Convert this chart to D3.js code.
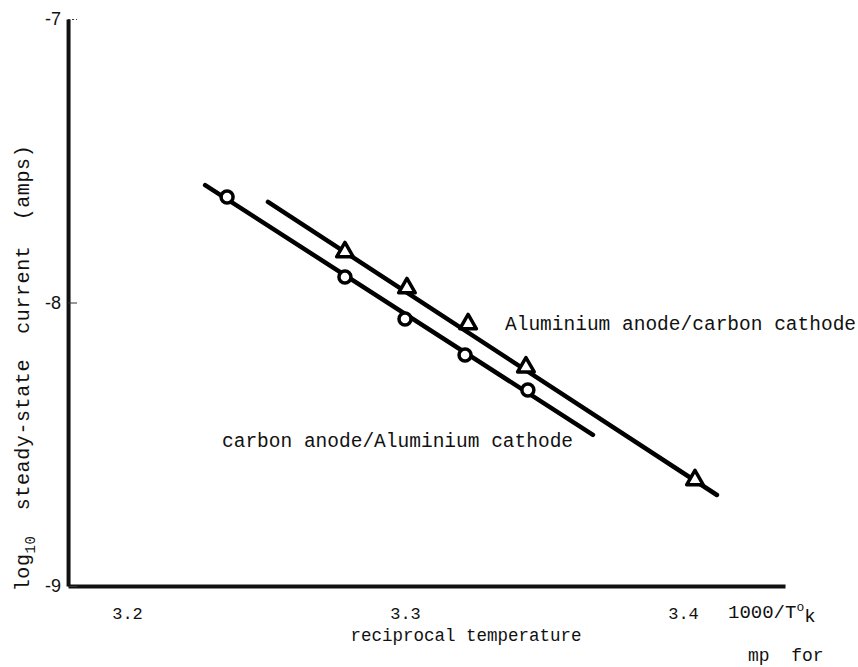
<!DOCTYPE html>
<html>
<head>
<meta charset="utf-8">
<script src="https://cdn.jsdelivr.net/npm/d3@7"></script>
<style>
  body { margin: 0; background: #fff; }
  text { font-family: "Liberation Mono", monospace; fill: #111; white-space: pre; }
</style>
</head>
<body>
<svg width="858" height="667"></svg>
<script>
// values (x = 1000/T, y = log10 current)
const circleX = [3.236, 3.2784, 3.300, 3.3216, 3.3442];
const circleY = [-7.628, -7.910, -8.058, -8.185, -8.309];
const circleFit = [[3.2281, -7.586], [3.3676, -8.467]];

const triX = [3.2784, 3.3007, 3.3227, 3.3435, 3.4043];
const triY = [-7.822, -7.949, -8.076, -8.228, -8.626];
const triFit = [[3.2507, -7.645], [3.4122, -8.679]];

const xTicks = [3.2, 3.3, 3.4];
const yTicks = [-7, -8, -9];
const xExtent = [3.1788, 3.4367];
const yExtent = [-9, -7];

const svg = d3.select("svg");

const x = d3.scaleLinear().domain([3.2, 3.4]).range([127, 683]);
const y = d3.scaleLinear().domain(yExtent).range([586, 19]);

const line = d3.line().x((d) => x(d[0])).y((d) => y(d[1]));

// axes
const xa = x.copy().domain(xExtent).range(xExtent.map(x));
const gx = svg.append("g").attr("transform", `translate(0,${y(-9)})`)
  .call(d3.axisBottom(xa).tickValues(xTicks).tickSize(0).tickPadding(21)
    .tickFormat(d3.format(".1f")));
gx.select(".domain").attr("stroke", "#111").attr("stroke-width", 4);
gx.selectAll("text").style("font-size", "17px").attr("fill", "#111");

const gy = svg.append("g").attr("transform", `translate(${xa(xExtent[0])},0)`)
  .call(d3.axisLeft(y).tickValues(yTicks).tickSizeInner(-9).tickSizeOuter(0)
    .tickPadding(7).tickFormat((d) => "-" + Math.abs(d)));
gy.select(".domain").attr("stroke", "#111").attr("stroke-width", 4);
gy.selectAll(".tick line").attr("stroke", "#333").attr("stroke-width", 1)
  .attr("stroke-dasharray", (d) => (d === -7 ? "2,2" : null));
gy.selectAll("text").style("font-family", "'Liberation Sans', sans-serif")
  .style("font-size", "18px").attr("fill", "#111");

// fitted lines
svg.append("path").datum(circleFit).attr("d", line)
  .attr("fill", "none").attr("stroke", "#000").attr("stroke-width", 4.5)
  .attr("stroke-linecap", "round");
svg.append("path").datum(triFit).attr("d", line)
  .attr("fill", "none").attr("stroke", "#000").attr("stroke-width", 4.5)
  .attr("stroke-linecap", "round");

// markers
svg.selectAll("circle.pt").data(circleX).join("circle").attr("class", "pt")
  .attr("cx", (d) => x(d)).attr("cy", (d, i) => y(circleY[i])).attr("r", 6)
  .attr("fill", "#fff").attr("stroke", "#000").attr("stroke-width", 3.5);

const tri = d3.symbol().type(d3.symbolTriangle).size(120);
svg.selectAll("path.tri").data(triX).join("path").attr("class", "tri")
  .attr("d", tri)
  .attr("transform", (d, i) => `translate(${x(d)},${y(triY[i])})`)
  .attr("fill", "#fff").attr("stroke", "#000").attr("stroke-width", 3.5)
  .attr("stroke-linejoin", "round");

// labels
svg.append("text").attr("x", 505).attr("y", 330).style("font-size", "19.5px")
  .text("Aluminium anode/carbon cathode");
svg.append("text").attr("x", 222).attr("y", 447).style("font-size", "19.5px")
  .text("carbon anode/Aluminium cathode");

const xl = svg.append("text").attr("x", 728).attr("y", 618).style("font-size", "19px");
xl.append("tspan").text("1000/T");
xl.append("tspan").attr("dy", -7).style("font-size", "13px").text("o");
xl.append("tspan").attr("dy", 11).text("k");

svg.append("text").attr("x", 466).attr("y", 641).attr("text-anchor", "middle")
  .style("font-size", "17.5px").text("reciprocal temperature");
svg.append("text").attr("x", 748).attr("y", 661).style("font-size", "18px")
  .text("mp  for");

const yl = svg.append("text").attr("transform", "translate(29,368) rotate(-90)")
  .attr("text-anchor", "middle").style("font-size", "20px")
  .style("letter-spacing", "0.6px");
yl.append("tspan").text("log");
yl.append("tspan").attr("dy", 6).style("font-size", "14px").text("10");
yl.append("tspan").attr("dy", -6).text("  steady-state  current  (amps)");
</script>
</body>
</html>
